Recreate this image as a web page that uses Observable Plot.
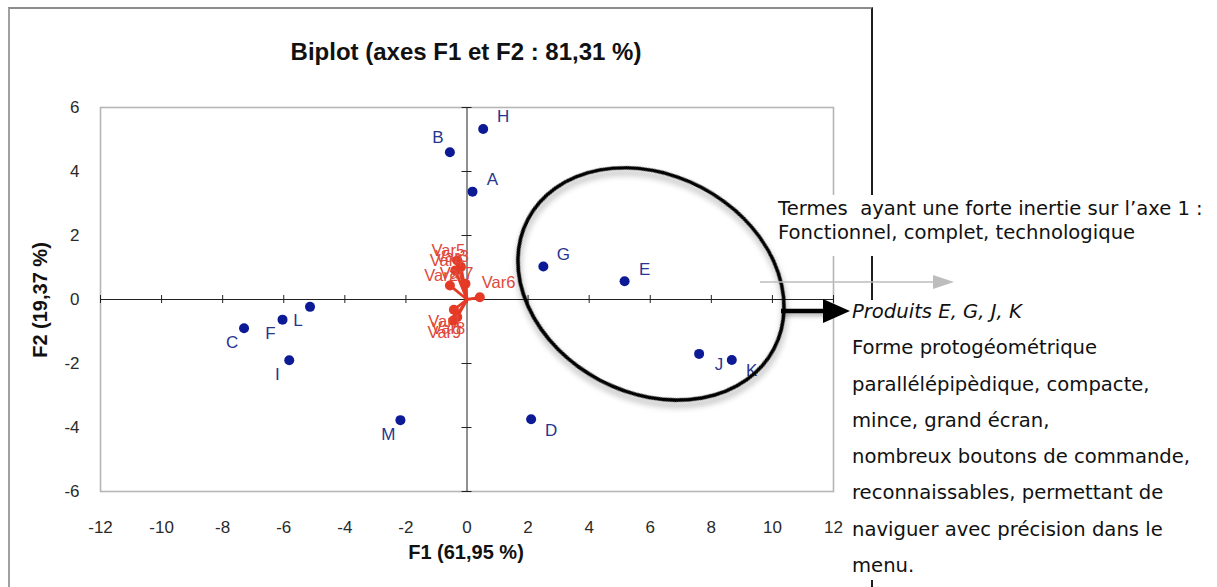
<!DOCTYPE html>
<html lang="fr"><head><meta charset="utf-8">
<script src="https://cdn.jsdelivr.net/npm/d3@7"></script>
<script src="https://cdn.jsdelivr.net/npm/@observablehq/plot@0.6"></script>
<style>
html,body{margin:0;padding:0;background:#fff;}
#wrap{position:relative;width:1217px;height:587px;overflow:hidden;background:#fff;font-family:"Liberation Sans",Arial,sans-serif;}
#outer{position:absolute;left:8px;top:7px;width:865px;height:640px;box-sizing:border-box;border-top:2px solid #8c8c8c;border-left:2px solid #a0a0a0;border-right:2px solid #1e1e1e;}
#chart{position:absolute;left:0;top:0;}
#deco{position:absolute;left:0;top:0;}
#title{position:absolute;left:166px;width:600px;top:38px;line-height:28px;text-align:center;font-weight:bold;font-size:24px;color:#111;}
#xlab{position:absolute;left:316px;width:300px;top:540px;line-height:24px;text-align:center;font-weight:bold;font-size:20px;color:#111;}
#ylab{position:absolute;left:40px;top:300px;transform:translate(-50%,-50%) rotate(-90deg);font-weight:bold;font-size:20px;color:#111;white-space:nowrap;}
.note{font-family:"DejaVu Sans",sans-serif;font-size:19.6px;color:#111;white-space:pre;}
#box1{position:absolute;left:776px;top:195px;width:441px;height:61px;background:#fff;padding:2px 0 0 2px;box-sizing:border-box;line-height:24px;}
#box2bg{position:absolute;left:851px;top:300px;width:366px;height:280px;background:#fff;}
#box2{position:absolute;left:852px;top:294px;line-height:36.3px;}
#chart g[aria-label$="tick label"] text{font-size:17px;}
</style></head><body>
<div id="wrap">
  <div id="outer"></div>
  <div id="chart"></div>
  <svg id="deco" width="1217" height="587"></svg>
  <div id="title">Biplot (axes F1 et F2 : 81,31 %)</div>
  <div id="xlab">F1 (61,95 %)</div>
  <div id="ylab">F2 (19,37 %)</div>
  <div id="box1" class="note">Termes  ayant une forte inertie sur l’axe 1 :
Fonctionnel, complet, technologique</div>
  <div id="box2bg"></div>
  <div id="box2" class="note"><i>Produits E, G, J, K</i>
Forme protogéométrique
parallélépipèdique, compacte,
mince, grand écran,
nombreux boutons de commande,
reconnaissables, permettant de
naviguer avec précision dans le
menu.</div>
</div>
<script>
// ---- data ----
const obsNames = ["A","B","C","D","E","F","G","H","I","J","K","L","M"];
const obsF1    = [0.18,-0.56,-7.30, 2.10, 5.16,-6.04, 2.50, 0.53,-5.82, 7.60, 8.67,-5.14,-2.18];
const obsF2    = [3.37, 4.60,-0.90,-3.74, 0.57,-0.63, 1.03, 5.33,-1.90,-1.70,-1.89,-0.23,-3.77];
const obsLabelSide = ["ne","nw","sw","se","ne","sw","ne","ne","sw","se","se","sw","sw"];

const varNames = ["Var1","Var2","Var3","Var4","Var5","Var6","Var7","Var8","Var9"];
const varF1    = [-0.43,-0.56,-0.20,-0.38,-0.32, 0.42,-0.05,-0.32,-0.45];
const varF2    = [-0.32, 0.44, 1.02, 0.91, 1.22, 0.07, 0.49,-0.55,-0.66];
const varLabelSide = ["s","n","n","n","n","e","n","s","s"];

const xTicks = [-12,-10,-8,-6,-4,-2,0,2,4,6,8,10,12];
const yTicks = [-6,-4,-2,0,2,4,6];

// annotation ellipse (centre in data units)
const ellipseCentre = [6.04, 0.47];

const obs = obsNames.map((name,i)=>({name, x:obsF1[i], y:obsF2[i], side:obsLabelSide[i]}));
const vars = varNames.map((name,i)=>({name, x:varF1[i], y:varF2[i], side:varLabelSide[i]}));

const BLUE = "#0c1a96", BLUE_TXT = "#28358f", RED = "#e53a25", RED_TXT = "#e0483a";

const obsOffsets = {ne:[20,-12], nw:[-12,-15], se:[20,11], sw:[-12,14]};
const varLabelOpts = {
  n:{textAnchor:"end", dx:8, dy:-10},
  s:{textAnchor:"end", dx:8, dy:12},
  e:{textAnchor:"start", dx:2, dy:-15}
};

const chart = Plot.plot({
  width: 880, height: 587,
  marginLeft: 100, marginRight: 47, marginTop: 107, marginBottom: 96,
  x: {domain: [-12, 12]},
  y: {domain: [-6, 6]},
  style: {fontFamily: "'Liberation Sans', Arial, sans-serif", fontSize: "17px", color: "#2a2a2a", background: "transparent", overflow: "visible"},
  marks: [
    Plot.frame({stroke: "#b5b5b5", strokeWidth: 1.6}),
    Plot.axisX({ticks: xTicks, tickSize: 0, tickPadding: 29, label: null, fontSize: 17, tickFormat: d => String(d)}),
    Plot.axisY({ticks: yTicks, tickSize: 0, tickPadding: 21, label: null, fontSize: 17, tickFormat: d => String(d)}),
    Plot.ruleY([0], {stroke: "#222", strokeWidth: 1}),
    Plot.ruleX([0], {stroke: "#222", strokeWidth: 1}),
    Plot.ruleX(xTicks, {x: d => d, y1: () => 0, y2: () => 0, insetTop: -4, insetBottom: -4, stroke: "#222"}),
    Plot.ruleY(yTicks, {y: d => d, x1: () => 0, x2: () => 0, insetLeft: -5, insetRight: -5, stroke: "#222"}),
    Plot.link(vars, {x1: () => 0, y1: () => 0, x2: "x", y2: "y", stroke: RED, strokeWidth: 2.8}),
    Plot.dot(vars, {x: "x", y: "y", r: 5, fill: RED}),
    ...Object.entries(varLabelOpts).map(([side, o]) =>
      Plot.text(vars.filter(d => d.side === side), {x: "x", y: "y", text: "name", fill: RED_TXT, fontSize: 16.5, ...o})),
    Plot.dot(obs, {x: "x", y: "y", r: 5, fill: BLUE}),
    ...Object.entries(obsOffsets).map(([side, [dx, dy]]) =>
      Plot.text(obs.filter(d => d.side === side), {x: "x", y: "y", text: "name", fill: BLUE_TXT, fontSize: 17, dx, dy}))
  ]
});
document.getElementById("chart").appendChild(chart);
// make sure the tick labels use the reference's larger size
d3.select(chart).selectAll('g[aria-label$="tick label"]').attr("font-size", 17).style("font-size", "17px");

// ellipse + black arrow annotation positioned with the chart's scales
const sx = chart.scale("x"), sy = chart.scale("y");
const cx = sx.apply(ellipseCentre[0]), cy = sy.apply(ellipseCentre[1]);
const A = 139, B = 109, TH = 27.8;
const t = TH * Math.PI / 180;
const W = Math.sqrt(A*A*Math.cos(t)**2 + B*B*Math.sin(t)**2);
const g = d3.select(chart).append("g");
g.append("ellipse")
  .attr("cx", cx).attr("cy", cy).attr("rx", A).attr("ry", B)
  .attr("transform", `rotate(${TH} ${cx} ${cy})`)
  .attr("fill", "none").attr("stroke", "#000").attr("stroke-width", 3.6)
  .style("filter", "drop-shadow(3px 4px 3px rgba(0,0,0,0.35))");
const ay = cy + 27, ax0 = cx + W - 3, tip = cx + 199;
g.append("line").attr("x1", ax0).attr("x2", tip - 26).attr("y1", ay).attr("y2", ay)
  .attr("stroke", "#000").attr("stroke-width", 4.5)
  .style("filter", "drop-shadow(2px 3px 2px rgba(0,0,0,0.3))");
g.append("polygon").attr("points", `${tip-27},${ay-12} ${tip},${ay} ${tip-27},${ay+12}`).attr("fill", "#000");

// light grey arrow
const deco = d3.select("#deco");
deco.append("line").attr("x1", 760).attr("x2", 935).attr("y1", 282).attr("y2", 282).attr("stroke", "#bdbdbd").attr("stroke-width", 1.5);
deco.append("polygon").attr("points", "933,275 954,282 933,289").attr("fill", "#bdbdbd");
</script>
</body></html>
